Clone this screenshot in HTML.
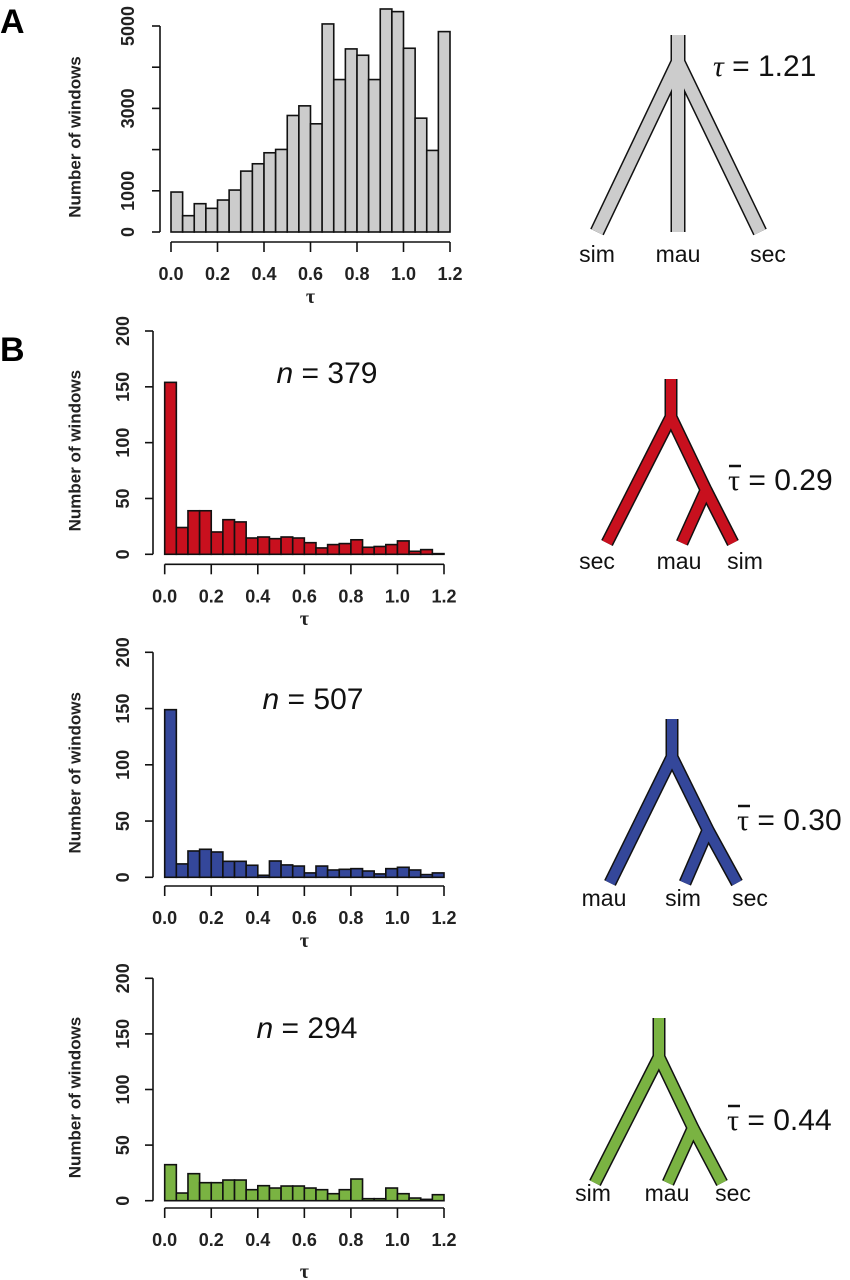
<!DOCTYPE html>
<html><head><meta charset="utf-8"><style>
html,body{margin:0;padding:0;background:#fff;}
svg{display:block;font-family:"Liberation Sans",sans-serif;}
</style></head><body>
<svg id="fig" width="850" height="1280" viewBox="0 0 850 1280">
<text x="0" y="33" font-size="34" font-weight="bold">A</text>
<text x="0" y="361" font-size="34" font-weight="bold">B</text>
<g id="charts"></g>
<g id="trees"></g>
</svg>
<script>
const tickLabelsX = ["0.0","0.2","0.4","0.6","0.8","1.0","1.2"];
const ticksAY = [0,1000,2000,3000,4000,5000];
const labelsAY = ["0","1000","","3000","","5000"];
const ticksBY = [0,50,100,150,200];
const labelsBY = ["0","50","100","150","200"];
const countsAll = [970,396,687,574,776,1018,1478,1656,1923,2004,2828,3062,2626,5050,3700,4444,4290,3700,5413,5349,4460,2763,1980,4864];
const countsRed = [154,24,39,39,20,31,29,14.6,15.5,14,15.5,14.6,10.4,5.7,8.7,9.6,13,6.3,7,8.7,12,2.7,4.2,0.6];
const countsBlue = [149,11.9,23.4,24.9,22.5,14.2,14.2,10.7,1.8,14.5,11,10,3.9,10,6.5,7.1,7.7,5.6,3,7.7,8.9,6.5,2.4,3.9];
const countsGreen = [32.4,6.9,24.3,16.2,16.2,18.6,18.6,9.9,13.5,11.4,13.2,13.2,11.4,9.9,6.3,9.9,19.5,1.8,1.8,11.4,6.3,2.4,1.2,5.4];
const nLabels = ["379","507","294"];
const tauLabels = ["1.21","0.29","0.30","0.44"];

const NS = "http://www.w3.org/2000/svg";
function mk(parent, tag, attrs, text){
  const e = document.createElementNS(NS, tag);
  for (const k in attrs) e.setAttribute(k, attrs[k]);
  if (text !== undefined) e.textContent = text;
  parent.appendChild(e);
  return e;
}
const charts = document.getElementById('charts');

function drawHist(name, counts, fill, x0, x1, y0, yTop, yMax, yTicks, yLabels, axisY, yAxisX, labOff, tauY, nText, nX, nY){
  const g = mk(charts, 'g', {});
  
  
  const xs = v => x0 + (x1 - x0) * v / 1.2;
  const ys = v => y0 - (y0 - yTop) * v / yMax;
  const bw = 0.05;
  counts.forEach((c, i) => {
    const r = mk(g, 'rect', {x: xs(i*bw), y: ys(c), width: xs((i+1)*bw) - xs(i*bw), height: y0 - ys(c), fill: fill, stroke: '#111', 'stroke-width': 1.6});
    
    
  });
  const ya = mk(g, 'g', {});
  
  
  mk(ya, 'line', {x1: yAxisX, x2: yAxisX, y1: ys(yTicks[0]), y2: ys(yTicks[yTicks.length-1]), stroke: '#111', 'stroke-width': 1.6});
  yTicks.forEach((t, i) => {
    mk(ya, 'line', {x1: yAxisX - 8, x2: yAxisX, y1: ys(t), y2: ys(t), stroke: '#111', 'stroke-width': 1.6});
    if (yLabels[i]) {
      const tx = yAxisX - labOff, ty = ys(t);
      const lt = mk(ya, 'text', {x: tx, y: ty, transform: `rotate(-90 ${tx} ${ty})`, 'text-anchor': 'middle', 'dominant-baseline': 'central', 'font-size': 18, 'font-weight': 'bold', fill: '#222'}, yLabels[i]);
      
      
    }
  });
  const ttx = 75, tty = (y0 + yTop) / 2 + 8;
  const yt = mk(g, 'text', {x: ttx, y: tty, transform: `rotate(-90 ${ttx} ${tty})`, 'text-anchor': 'middle', 'dominant-baseline': 'central', 'font-size': 17, 'font-weight': 'bold', fill: '#222'}, 'Number of windows');
  
  
  const xa = mk(g, 'g', {});
  
  
  mk(xa, 'line', {x1: xs(0), x2: xs(1.2), y1: axisY, y2: axisY, stroke: '#111', 'stroke-width': 1.6});
  tickLabelsX.forEach((l, i) => {
    const v = i * 0.2;
    mk(xa, 'line', {x1: xs(v), x2: xs(v), y1: axisY, y2: axisY + 10, stroke: '#111', 'stroke-width': 1.6});
    const lt = mk(xa, 'text', {x: xs(v), y: axisY + 38, 'text-anchor': 'middle', 'font-size': 18, 'font-weight': 'bold', fill: '#222'}, l);
    
    
  });
  const xt = mk(g, 'text', {x: (xs(0)+xs(1.2))/2, y: tauY, 'text-anchor': 'middle', 'font-size': 20, 'font-weight': 'bold', 'font-family': '"Liberation Serif",serif', fill: '#222'}, 'τ');
  
  
  if (nText) {
    const nt = mk(g, 'text', {x: nX, y: nY, 'text-anchor': 'middle', 'font-size': 30, fill: '#111'});
    mk(nt, 'tspan', {'font-style': 'italic'}, 'n');
    mk(nt, 'tspan', {}, ' = ' + nText);
    
    
  }
}

drawHist('histogram-all', countsAll, '#cccccc', 171, 450, 232, 26, 5000, ticksAY, labelsAY, 242, 160, 32, 303, null);
drawHist('histogram-red', countsRed, '#c8101e', 164.7, 444, 554.3, 331, 200, ticksBY, labelsBY, 564.3, 153, 30, 625, nLabels[0], 327, 383);
drawHist('histogram-blue', countsBlue, '#34479a', 164.7, 444, 877.3, 652.3, 200, ticksBY, labelsBY, 886, 153, 30, 947, nLabels[1], 313, 709);
drawHist('histogram-green', countsGreen, '#7ab342', 164.7, 444, 1200.7, 978.3, 200, ticksBY, labelsBY, 1208, 153, 30, 1278, nLabels[2], 307, 1038);

const trees = document.getElementById('trees');
function drawTree(name, fill, w, stemTop, root, tipL, inner, tipM, tipR, tipY, labels, labelXs, labelY, tauText, tx, ty, bar){
  const g = mk(trees, 'g', {});
  
  
  const paths = [];
  paths.push([[root[0], stemTop], [root[0], root[1] + 4]]);
  paths.push([root, [tipL, tipY]]);
  if (inner) {
    paths.push([root, inner]);
    paths.push([inner, [tipM, tipY]]);
    paths.push([inner, [tipR, tipY]]);
  } else {
    paths.push([root, [tipM, tipY]]);
    paths.push([root, [tipR, tipY]]);
  }
  const dOf = p => p.map((q,i)=>(i?'L':'M')+q[0]+' '+q[1]).join(' ');
  paths.forEach(p => mk(g, 'path', {d: dOf(p), fill: 'none', stroke: '#111', 'stroke-width': w + 3, 'stroke-linecap': 'butt'}));
  paths.forEach(p => mk(g, 'path', {d: dOf(p), fill: 'none', stroke: fill, 'stroke-width': w, 'stroke-linecap': 'butt'}));
  mk(g, 'circle', {cx: root[0], cy: root[1], r: w/2, fill: fill});
  if (inner) mk(g, 'circle', {cx: inner[0], cy: inner[1], r: w/2, fill: fill});
  labels.forEach((l, i) => {
    const t = mk(g, 'text', {x: labelXs[i], y: labelY, 'text-anchor': 'middle', 'font-size': 23, fill: '#111'}, l);
    
    
  });
  const tt = mk(g, 'text', {x: tx, y: ty, 'font-size': 30, fill: '#111'});
  if (bar) {
    mk(tt, 'tspan', {'font-family': '"Liberation Serif",serif'}, 'τ');
    mk(tt, 'tspan', {}, ' = ' + tauText);
    mk(g, 'line', {x1: tx + 1, x2: tx + 13, y1: ty - 24, y2: ty - 24, stroke: '#111', 'stroke-width': 2.5});
  } else {
    mk(tt, 'tspan', {'font-style': 'italic', 'font-family': '"Liberation Serif",serif'}, 'τ');
    mk(tt, 'tspan', {}, '  = ' + tauText);
  }
  
  
}
drawTree('tree-all', '#cccccc', 12, 35, [678, 62], 597, null, 678, 760, 232, ['sim','mau','sec'], [597,678,768], 262, tauLabels[0], 713, 76, false);
drawTree('tree-red', '#c8101e', 10, 379, [671, 417], 607, [706, 490], 682, 733, 543, ['sec','mau','sim'], [597,679,745], 569, tauLabels[1], 728, 490, true);
drawTree('tree-blue', '#34479a', 10, 719, [672, 757], 610, [708, 830], 685, 737, 883, ['mau','sim','sec'], [604,683,750], 906, tauLabels[2], 737, 830, true);
drawTree('tree-green', '#7ab342', 10, 1018, [659, 1057], 595, [693, 1128], 668, 722, 1183, ['sim','mau','sec'], [593,667,733], 1201, tauLabels[3], 727, 1130, true);
</script>
</body></html>
